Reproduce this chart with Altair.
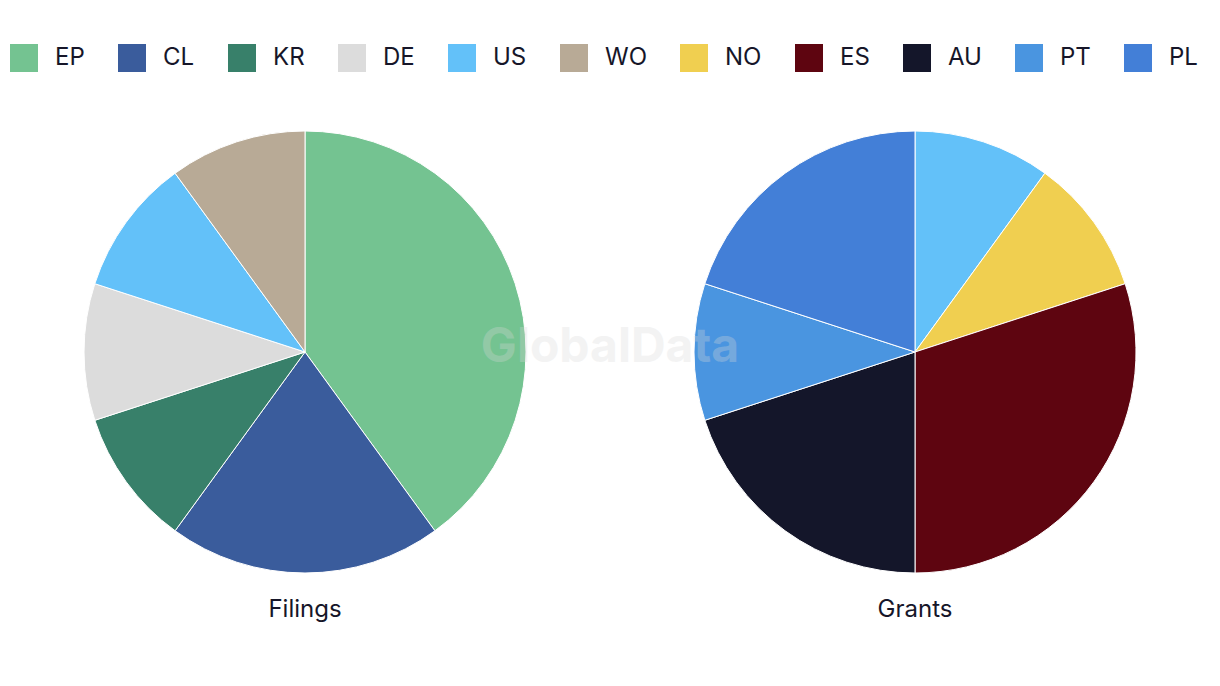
import altair as alt
import pandas as pd

codes = ["EP", "CL", "KR", "DE", "US", "WO", "NO", "ES", "AU", "PT", "PL"]
colors = ["#74c391", "#3a5c9c", "#38806a", "#dcdcdc", "#63c1f9", "#b8aa96",
          "#f0cf50", "#5e0510", "#14162a", "#4a95e0", "#437fd7"]

filings_codes = ["EP", "CL", "KR", "DE", "US", "WO"]
filings_values = [4, 2, 1, 1, 1, 1]
grants_codes = ["US", "NO", "ES", "AU", "PT", "PL"]
grants_values = [1, 1, 3, 2, 1, 2]
pie_titles = ["Filings", "Grants"]

FONT = "Inter"
TEXT = "#161629"

color_scale = alt.Scale(domain=codes, range=colors)
legend = alt.Legend(
    title=None, orient="none", legendX=10, legendY=44, direction="horizontal",
    columns=11, symbolType="square", symbolSize=784, symbolStrokeWidth=0,
    labelFont=FONT, labelFontSize=24, labelColor=TEXT, labelOffset=17,
    columnPadding=33, symbolOpacity=1,
)

def pie(cs, vs, cx, title):
    df = pd.DataFrame({"code": cs, "value": vs, "idx": list(range(len(cs)))})
    arc = alt.Chart(df).mark_arc(radius=221, stroke="white", strokeWidth=1).encode(
        theta=alt.Theta("value:Q", stack=True),
        order=alt.Order("idx:Q"),
        color=alt.Color("code:N", scale=color_scale, legend=legend),
        x=alt.value(cx),
        y=alt.value(352),
    )
    tdf = pd.DataFrame({"t": [title]})
    txt = alt.Chart(tdf).mark_text(font=FONT, fontSize=24, color=TEXT,
                                   baseline="alphabetic", align="center").encode(
        text="t:N", x=alt.value(cx), y=alt.value(617)
    )
    return arc, txt

a1, t1 = pie(filings_codes, filings_values, 305, pie_titles[0])
a2, t2 = pie(grants_codes, grants_values, 915, pie_titles[1])

wm = alt.Chart(pd.DataFrame({"t": ["GlobalData"]})).mark_text(
    font=FONT, fontSize=48, fontWeight="bold", color="#d8d8d8", opacity=0.3,
    baseline="alphabetic", align="center"
).encode(text="t:N", x=alt.value(610), y=alt.value(362))

chart = alt.layer(a1, a2, t1, t2, wm).resolve_scale(theta="independent").properties(
    width=1220, height=686, autosize=alt.AutoSizeParams(type="none"),
    padding=0, background="white"
).configure_view(stroke=None)

chart.save("out.html", embed_options={"renderer": "svg", "actions": False})
